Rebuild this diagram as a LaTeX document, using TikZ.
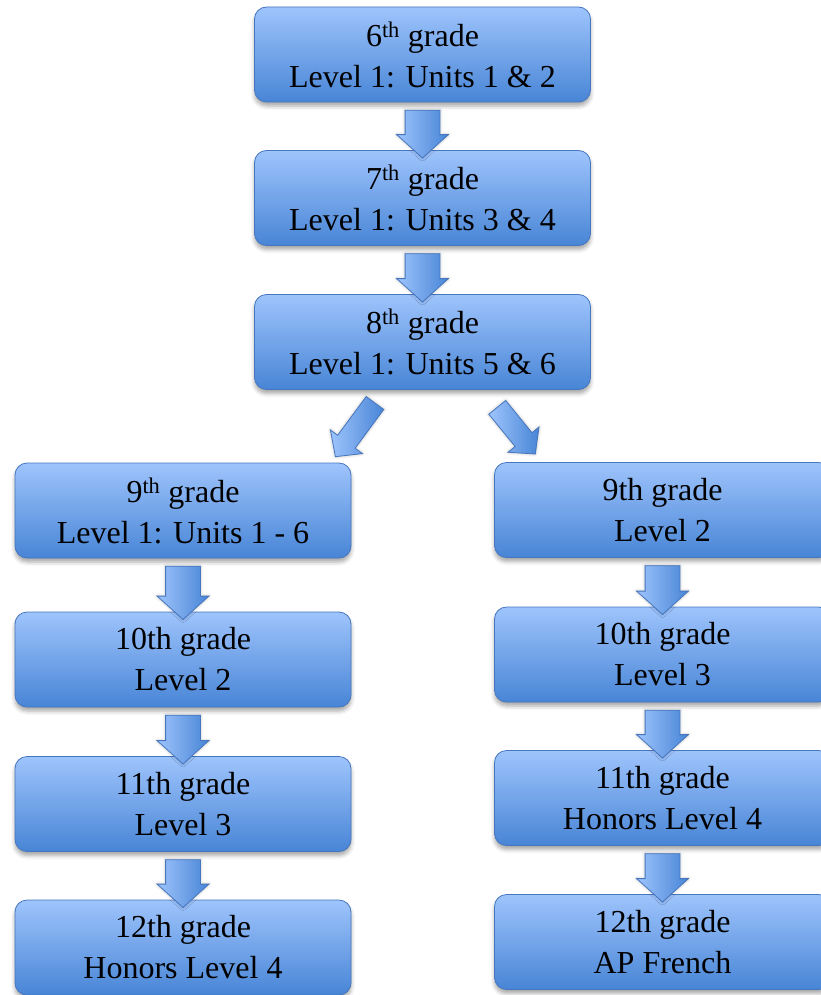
\documentclass[tikz,border=0pt]{standalone}
\usepackage{fontspec}
\setmainfont{Liberation Serif}
\usetikzlibrary{shapes.arrows,shadows.blur,calc}
\definecolor{boxtop}{RGB}{158,196,252}
\definecolor{boxbot}{RGB}{72,133,214}
\definecolor{boxline}{RGB}{70,118,190}
\tikzset{
  gbox/.style={draw=boxline, line width=0.8pt, rounded corners=12pt,
    top color=boxtop, bottom color=boxbot,
    minimum width=336pt, minimum height=95pt, align=center, inner sep=0pt,
    font=\fontsize{32}{41}\selectfont,
    blur shadow={shadow xshift=0pt, shadow yshift=-4pt, shadow blur radius=4pt, shadow opacity=35}},
  barrow/.style={single arrow, draw=boxline, line width=0.8pt,
    left color=boxtop, right color=boxbot,
    minimum width=51pt, single arrow head extend=8.5pt, single arrow tip angle=96,
    inner xsep=0pt, inner ysep=17pt, outer sep=0pt,
    blur shadow={shadow xshift=0pt, shadow yshift=0pt, shadow blur radius=3pt, shadow opacity=30}},
  thinarrow/.style={minimum width=39pt, inner ysep=10.5pt, single arrow head extend=9pt, single arrow tip angle=94}
}
\newcommand\blockarr[3][]{%
  \path let \p1=(#2), \p2=(#3),
    \n1={veclen(\x2-\x1,\y2-\y1)}, \n2={atan2(\y2-\y1,\x2-\x1)} in
    node[barrow, #1, minimum height=\n1, rotate=\n2] at ($(\p1)!0.5!(\p2)$) {};}
\begin{document}
\begin{tikzpicture}[x=1pt,y=-1pt]
\useasboundingbox (0,0) rectangle (821,995);
% top column
\node[gbox] (n6) at (422.5,54.5) {6\textsuperscript{th} grade\\Level 1: Units 1 \& 2};
\node[gbox] (n7) at (422.5,198) {7\textsuperscript{th} grade\\Level 1: Units 3 \& 4};
\node[gbox] (n8) at (422.5,342) {8\textsuperscript{th} grade\\Level 1: Units 5 \& 6};
% left column
\node[gbox] (l9) at (183,510.5) {9\textsuperscript{th} grade\\Level 1: Units 1 - 6};
\node[gbox] (l10) at (183,659.5) {10th grade\\Level 2};
\node[gbox] (l11) at (183,804) {11th grade\\Level 3};
\node[gbox] (l12) at (183,947.5) {12th grade\\Honors Level 4};
% right column
\node[gbox] (r9) at (662.5,510) {9th grade\\Level 2};
\node[gbox] (r10) at (662.5,654.5) {10th grade\\Level 3};
\node[gbox] (r11) at (662.5,798) {11th grade\\Honors Level 4};
\node[gbox] (r12) at (662.5,942) {12th grade\\AP French};
% arrows
\blockarr{n6.south}{n7.north}
\blockarr{n7.south}{n8.north}
\coordinate (dlA) at ($(n8.south)+(-44.5,9)$);
\coordinate (dlB) at ($(l9.north east)+(-13,-10)$);
\coordinate (drA) at ($(n8.south)+(71.5,13.5)$);
\coordinate (drB) at ($(r9.north west)+(38,-12)$);
\blockarr[thinarrow]{dlA}{dlB}
\blockarr[thinarrow]{drA}{drB}
\blockarr{l9.south}{l10.north}
\blockarr{l10.south}{l11.north}
\blockarr{l11.south}{l12.north}
\blockarr{r9.south}{r10.north}
\blockarr{r10.south}{r11.north}
\blockarr{r11.south}{r12.north}
\end{tikzpicture}
\end{document}
